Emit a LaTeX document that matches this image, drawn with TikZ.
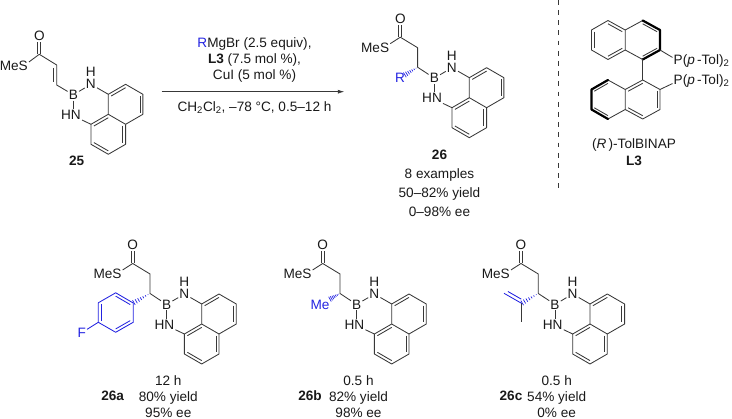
\documentclass[tikz,border=0pt]{standalone}
\usepackage{fontspec}
\setmainfont{Liberation Sans}
\usetikzlibrary{arrows.meta,calc}
\definecolor{rblue}{RGB}{35,35,225}
\definecolor{bondc}{gray}{0.22}
\tikzset{
  bond/.style={draw=bondc, line width=.85pt, line join=round},
  bbond/.style={draw=rblue, line width=.85pt, line join=round},
  thick bond/.style={draw=black, line width=2.2pt, line join=round, line cap=round},
  atom/.style={inner sep=1pt, text=black!90, font=\fontsize{13.6}{16}\selectfont},
  batom/.style={atom, text=rblue},
  lbl/.style={inner sep=0pt, align=center, text=black!90, font=\fontsize{13.6}{16}\selectfont},
}
% inner line of a ring double bond: from, to, ring centre
\newcommand{\inbond}[4][bond]{\draw[#1] ($(#2)!.17!(#4)$) -- ($(#3)!.17!(#4)$);}
\newcommand{\hashbond}[3]{\foreach \hh in {.12,.26,...,1}{\draw[#3, line width=.7pt]
  ($(#1)!\hh!(#2)!{\hh*2.8pt}!90:(#2)$) -- ($(#1)!\hh!(#2)!{\hh*2.8pt}!-90:(#2)$);}}
\begin{document}
\begin{tikzpicture}[x=1pt,y=-1pt]
\useasboundingbox (0,0) rectangle (732,419);
% naphthalene diamine part, one for each molecule
\foreach \m/\cx/\cy in {a/108.3/114.3,b/469.3/97.7,c/201.7/324,d/391.7/324,e/590/324}{
\begin{scope}[shift={(\cx,\cy)}]
\coordinate (o\m) at (0,0);
\coordinate (top\m) at (17.3,-10);
\coordinate (low\m) at (0,20);
\foreach \v/\px/\py in {p/0/-20,q/17.3/-30,r/34.6/-20,s/34.6/0,t/17.3/10,u/-17.3/10,w/-17.3/30,y/0/40,z/17.3/30}{
  \coordinate (\v\m) at (\px,\py);}
\node[atom] (B\m) at (-35,-19.5){B};
\node[atom] (N\m) at (-17.4,-30){N};
\node[atom] (H\m) at (-17.4,-42.3){H};
\node[atom] (HN\m) at (-37.3,.5){HN};
\end{scope}
\draw[bond] (B\m) -- (N\m) -- (p\m) -- (q\m) -- (r\m) -- (s\m) -- (t\m) -- (o\m) -- (p\m);
\draw[bond] (B\m) -- (B\m |- HN\m.north);
\draw[bond] (HN\m) -- (u\m) -- (w\m) -- (y\m) -- (z\m) -- (t\m);
\draw[bond] (o\m) -- (u\m);
\inbond{p\m}{q\m}{top\m}
\inbond{r\m}{s\m}{top\m}
\inbond{t\m}{z\m}{low\m}
\inbond{w\m}{y\m}{low\m}
\inbond{u\m}{o\m}{low\m}
}
% thioester chain of the products
\foreach \m in {b,c,d,e}{
\begin{scope}[shift={(o\m)}]
\node[atom] (O\m) at (-69,-79){O};
\coordinate (k\m) at (-69,-60.5);
\coordinate (ca\m) at (-51.7,-50);
\coordinate (cb\m) at (-51.7,-30.5);
\node[atom, anchor=east] (S\m) at (-79,-50){MeS};
\end{scope}
\draw[bond] (S\m.15) -- (k\m) -- (ca\m) -- (cb\m) -- (B\m);
\draw[bond] ([xshift=-1.5pt]k\m) -- ([xshift=-1.5pt]O\m.south);
\draw[bond] ([xshift=1.5pt]k\m) -- ([xshift=1.5pt]O\m.south);
}
% 25
\node[atom] (Oa) at (39.3,36){O};
\node[atom, anchor=east] (Sa) at (29,66){MeS};
\coordinate (ka) at (39.3,54.3);
\coordinate (va) at (56.7,65);
\coordinate (vb) at (56.7,85);
\draw[bond] (Sa.15) -- (ka) -- (va) -- (vb) -- (Ba);
\draw[bond] ([xshift=-1.5pt]ka) -- ([xshift=-1.5pt]Oa.south);
\draw[bond] ([xshift=1.5pt]ka) -- ([xshift=1.5pt]Oa.south);
\draw[bond] ([xshift=-3.6pt]$(va)!.15!(vb)$) -- ([xshift=-3.6pt]$(vb)!.15!(va)$);
\node[lbl] (n25) at (76.7,161){\textbf{25}};
% arrow
\coordinate (ar1) at (161.7,91.7);
\coordinate (ar2) at (344.3,91.7);
\draw[draw=bondc, line width=.7pt, -{Latex[length=6.5pt,width=4pt]}] (ar1) -- (ar2);
\node[lbl] (cond) at (254.5,60){\textcolor{rblue}{R}MgBr (2.5 equiv),\\ \textbf{L3} (7.5 mol \%),\\ CuI (5 mol \%)};
\node[lbl] (solv) at (254.5,107.7){CH\textsubscript{2}Cl\textsubscript{2}, –78 °C, 0.5–12 h};
% 26
\coordinate (hb) at (404.3,75.2);
\node[batom] (Rb) at (400,77.7){R};
\hashbond{cbb}{hb}{rblue}
\node[lbl, font=\fontsize{13.6}{19}\selectfont] (n26) at (439.5,183.5){\textbf{26}\\ 8 examples\\ 50–82\% yield\\ 0–98\% ee};
% divider
\coordinate (d1) at (558.3,-.2);
\coordinate (d2) at (558.3,190);
\draw[draw=bondc, line width=.85pt, dash pattern=on 4.8pt off 5.4pt] (d1) -- (d2);
% L3
\foreach \n/\cx/\cy in {U/642.7/40,L/642.7/99.5}{
\begin{scope}[shift={(\cx,\cy)}]
\coordinate (\n c) at (0,0);
\coordinate (\n d) at (-34.7,0);
\foreach \v/\px/\py in {1/0/19.5,2/17.3/10,3/17.3/-10,4/0/-19.5,5/-17.5/-10,6/-17.5/10,7/-34.7/-19.5,8/-51.2/-10,9/-51.2/10,0/-34.7/19.5}{
  \coordinate (\n\v) at (\px,\py);}
\end{scope}
\draw[bond] (\n1) -- (\n2) -- (\n3) -- (\n4) -- (\n5) -- (\n6) -- (\n1);
\draw[bond] (\n5) -- (\n7) -- (\n8) -- (\n9) -- (\n0) -- (\n6);
}
\draw[thick bond] (U4) -- (U3) -- (U2) -- (U1);
\draw[thick bond] (L7) -- (L8) -- (L9) -- (L0);
\draw[bond] (U1) -- (L4);
\inbond{U3}{U4}{Uc}
\inbond{U1}{U2}{Uc}
\inbond{U5}{U7}{Ud}
\inbond{U8}{U9}{Ud}
\inbond{U0}{U6}{Ud}
\inbond{L4}{L5}{Lc}
\inbond{L2}{L3}{Lc}
\inbond{L1}{L6}{Lc}
\inbond{L7}{L8}{Ld}
\inbond{L9}{L0}{Ld}
\node[atom, anchor=west] (Pu) at (672.5,60.5){P(\textit{p}\,-Tol)\textsubscript{2}};
\node[atom, anchor=west] (Pl) at (672.5,80.5){P(\textit{p}\,-Tol)\textsubscript{2}};
\draw[bond] (U2) -- (Pu.174);
\draw[bond] (L3) -- (Pl.186);
\node[lbl] (tol) at (634,145){(\textit{R}\,)-TolBINAP};
\node[lbl] (L3) at (634,161){\textbf{L3}};
% 26a
\begin{scope}[shift={(115.7,312.5)}]
\coordinate (ac) at (0,0);
\foreach \v/\px/\py in {1/0/-19.7,2/17.5/-9.5,3/17.5/9.8,4/0/19.8,5/-17.4/9.8,6/-17.4/-9.7}{
  \coordinate (ar\v) at (\px,\py);}
\end{scope}
\draw[bbond] (ar1) -- (ar2) -- (ar3) -- (ar4) -- (ar5) -- (ar6) -- cycle;
\inbond[bbond]{ar1}{ar2}{ac}
\inbond[bbond]{ar3}{ar4}{ac}
\inbond[bbond]{ar5}{ar6}{ac}
\node[batom] (Fc) at (81.7,332.7){F};
\draw[bbond] (ar5) -- (Fc);
\hashbond{cbc}{ar2}{rblue}
\node[lbl] (tc) at (168.3,396.7){12 h\\ 80\% yield\\ 95\% ee};
\node[lbl] (nc) at (112.7,395.7){\textbf{26a}};
% 26b
\coordinate (hd) at (329.5,299.3);
\node[batom] (Md) at (320,305){Me};
\hashbond{cbd}{hd}{rblue}
\node[lbl] (td) at (358.5,396.7){0.5 h\\ 82\% yield\\ 98\% ee};
\node[lbl] (nd) at (310,395.7){\textbf{26b}};
% 26c
\coordinate (ve) at (521.5,303.3);
\coordinate (vt) at (504,293.3);
\coordinate (vm) at (521.5,322.3);
\hashbond{cbe}{ve}{rblue}
\draw[bond] (ve) -- (vm);
\draw[bbond] (ve) -- (vt);
\draw[bbond] ([xshift=1.8pt,yshift=3pt]$(vt)!.12!(ve)$) -- ([xshift=1.8pt,yshift=3pt]$(ve)!.12!(vt)$);
\node[lbl] (te) at (556.7,396.7){0.5 h\\ 54\% yield\\ 0\% ee};
\node[lbl] (ne) at (511,395.7){\textbf{26c}};
\end{tikzpicture}
\end{document}
